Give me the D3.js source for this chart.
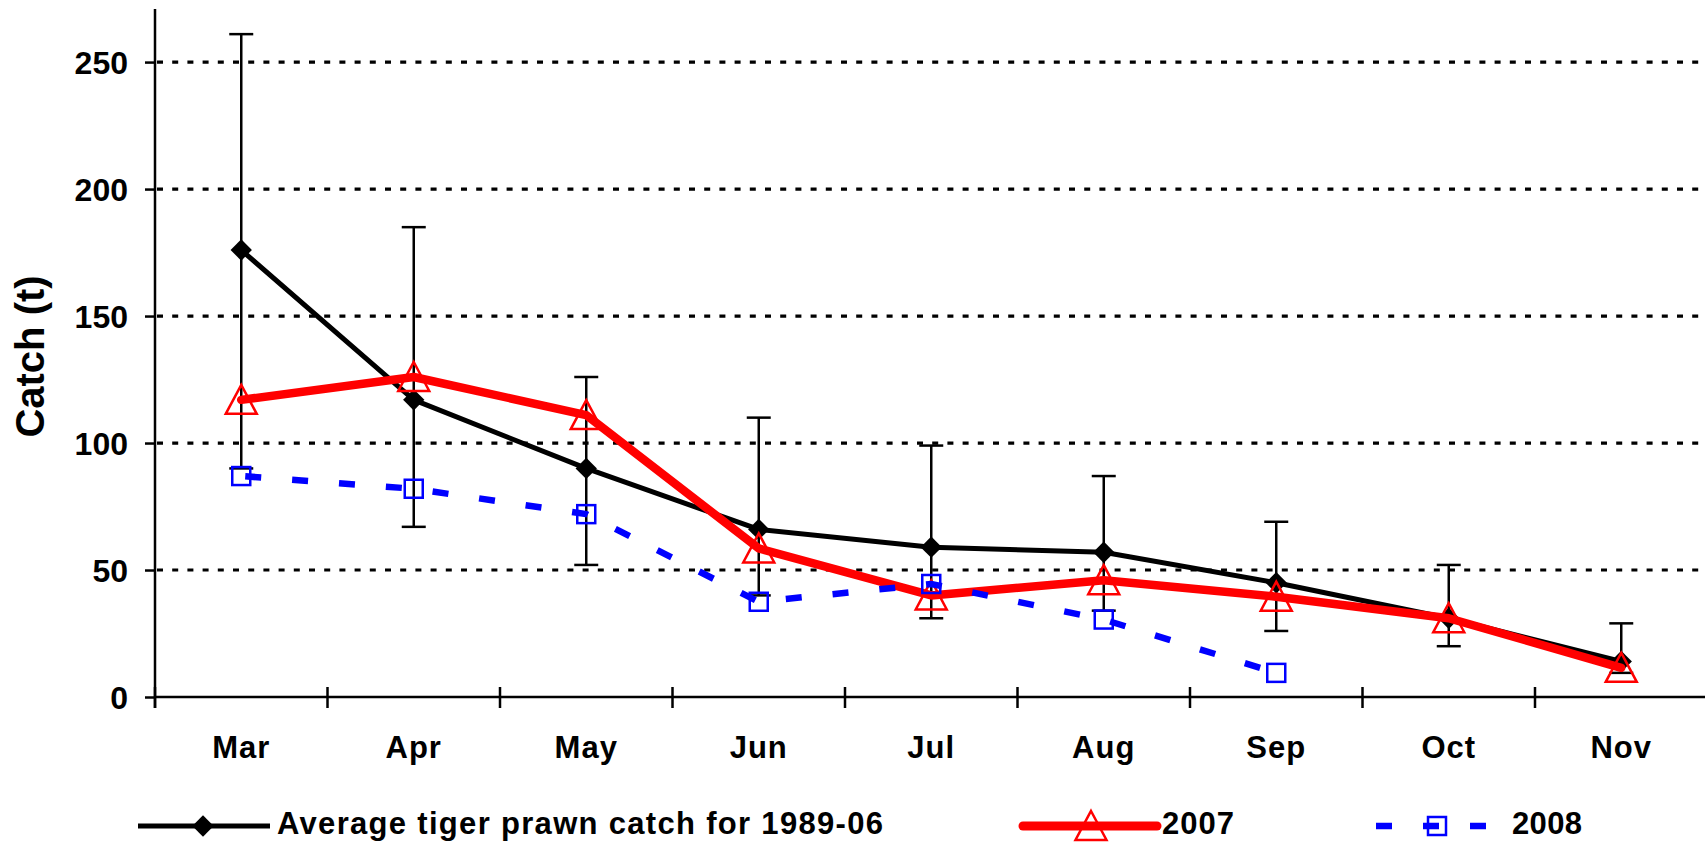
<!DOCTYPE html>
<html>
<head>
<meta charset="utf-8">
<script src="https://cdn.jsdelivr.net/npm/d3@7"></script>
<style>
  html, body { margin: 0; padding: 0; background: #fff; }
  svg { display: block; font-family: "Liberation Sans", Arial, sans-serif; font-weight: bold; }
</style>
</head>
<body>
<svg id="chart" width="1705" height="842"></svg>
<script>
// ---- data ----
const months = ["Mar", "Apr", "May", "Jun", "Jul", "Aug", "Sep", "Oct", "Nov"];
const avgCatch = [176, 117, 90, 66, 59, 57, 45, 31, 14];
const avgUpper = [261, 185, 126, 110, 99, 87, 69, 52, 29];
const avgLower = [90, 67, 52, 40, 31, 34, 26, 20, 9.5];
const catch2007 = [117, 126, 111, 58.5, 40, 46, 39.5, 31, 11.5];
const catch2008 = [87, 82, 72, 37.5, 44.5, 30.5, 9.5, null, null];
const yTicks = [0, 50, 100, 150, 200, 250];
const seriesNames = ["Average tiger prawn catch for 1989-06", "2007", "2008"];
const yTitle = "Catch (t)";

// ---- layout ----
const svg = d3.select("#chart");
const x = d3.scaleBand().domain(months).range([155, 1707.5]).padding(0);
const y = d3.scaleLinear().domain([0, 270.9]).range([697, 9]);
const cx = m => x(m) + x.bandwidth() / 2;

// gridlines
svg.append("g").selectAll("line").data(yTicks.filter(d => d > 0)).join("line")
  .attr("x1", 157).attr("x2", 1705)
  .attr("y1", d => y(d)).attr("y2", d => y(d))
  .attr("stroke", "#000").attr("stroke-width", 3.2)
  .attr("stroke-dasharray", "6,9.2");

// y axis
const yAxis = svg.append("g").attr("transform", "translate(155,0)")
  .call(d3.axisLeft(y).tickValues(yTicks).tickSize(10).tickPadding(17));
yAxis.select(".domain").remove();
yAxis.selectAll(".tick line").attr("stroke", "#000").attr("stroke-width", 2.5);
yAxis.selectAll(".tick text").attr("font-size", 32).attr("font-weight", "bold")
  .attr("fill", "#000").attr("font-family", "Liberation Sans, Arial, sans-serif")
  .attr("dy", "0.36em");
svg.append("line").attr("x1", 155).attr("x2", 155).attr("y1", 9).attr("y2", 708)
  .attr("stroke", "#000").attr("stroke-width", 2.5);

// x axis
svg.append("line").attr("x1", 155).attr("x2", 1705).attr("y1", 697).attr("y2", 697)
  .attr("stroke", "#000").attr("stroke-width", 2.5);
svg.append("g").selectAll("line").data(months.concat(["__end"])).join("line")
  .attr("x1", (d, i) => 155 + i * x.bandwidth()).attr("x2", (d, i) => 155 + i * x.bandwidth())
  .attr("y1", 687).attr("y2", 708)
  .attr("stroke", "#000").attr("stroke-width", 2.5);
svg.append("g").selectAll("text").data(months).join("text")
  .attr("x", d => cx(d)).attr("y", 757.5)
  .attr("text-anchor", "middle").attr("font-size", 31).attr("letter-spacing", 1)
  .text(d => d);

// y title
svg.append("text").attr("transform", "translate(44,356.5) rotate(-90)")
  .attr("text-anchor", "middle").attr("font-size", 40).text(yTitle);

// ---- error bars (average) ----
const eb = svg.append("g").attr("stroke", "#000").attr("stroke-width", 2.5);
months.forEach((m, i) => {
  eb.append("line").attr("x1", cx(m)).attr("x2", cx(m))
    .attr("y1", y(avgUpper[i])).attr("y2", y(avgLower[i]));
  [avgUpper[i], avgLower[i]].forEach(v => {
    eb.append("line").attr("x1", cx(m) - 12).attr("x2", cx(m) + 12)
      .attr("y1", y(v)).attr("y2", y(v));
  });
});

// ---- series ----
const line = d3.line().defined(d => d.v != null).x(d => cx(d.m)).y(d => y(d.v));
const toPts = arr => months.map((m, i) => ({ m, v: arr[i] }));

// average
svg.append("path").datum(toPts(avgCatch)).attr("d", line)
  .attr("fill", "none").attr("stroke", "#000").attr("stroke-width", 5)
  .attr("stroke-linejoin", "round");
const diamond = d3.symbol().type(d3.symbolDiamond2).size(290);
svg.append("g").selectAll("path").data(toPts(avgCatch)).join("path")
  .attr("transform", d => `translate(${cx(d.m)},${y(d.v)})`)
  .attr("d", diamond).attr("fill", "#000");

// 2007
svg.append("path").datum(toPts(catch2007)).attr("d", line)
  .attr("fill", "none").attr("stroke", "#ff0000").attr("stroke-width", 8.5)
  .attr("stroke-linejoin", "round").attr("stroke-linecap", "round");
function triPath(sx, sy) {
  return `M${sx},${sy - 15}L${sx + 15.5},${sy + 14}L${sx - 15.5},${sy + 14}Z`;
}
svg.append("g").selectAll("path").data(toPts(catch2007)).join("path")
  .attr("d", d => triPath(cx(d.m), y(d.v)))
  .attr("fill", "none").attr("stroke", "#ff0000").attr("stroke-width", 2.5);

// 2008
svg.append("path").datum(toPts(catch2008)).attr("d", line)
  .attr("fill", "none").attr("stroke", "#0000ff").attr("stroke-width", 6.5)
  .attr("stroke-dasharray", "16,31").attr("stroke-dashoffset", -4);
svg.append("g").selectAll("rect").data(toPts(catch2008).filter(d => d.v != null)).join("rect")
  .attr("x", d => cx(d.m) - 9).attr("y", d => y(d.v) - 9)
  .attr("width", 18).attr("height", 18)
  .attr("fill", "none").attr("stroke", "#0000ff").attr("stroke-width", 2.5);

// ---- legend ----
const lg = svg.append("g");
const ly = 826;
const lty = 834;
lg.append("line").attr("x1", 138).attr("x2", 270).attr("y1", ly).attr("y2", ly)
  .attr("stroke", "#000").attr("stroke-width", 5);
lg.append("path").attr("transform", `translate(203,${ly})`).attr("d", diamond).attr("fill", "#000");
lg.append("text").attr("x", 277).attr("y", lty).attr("font-size", 31)
  .attr("textLength", 606).attr("lengthAdjust", "spacing").text(seriesNames[0]);

lg.append("line").attr("x1", 1023).attr("x2", 1157).attr("y1", ly).attr("y2", ly)
  .attr("stroke", "#ff0000").attr("stroke-width", 9).attr("stroke-linecap", "round");
lg.append("path").attr("d", triPath(1091, ly)).attr("fill", "none")
  .attr("stroke", "#ff0000").attr("stroke-width", 2.5);
lg.append("text").attr("x", 1162).attr("y", lty).attr("font-size", 31)
  .attr("textLength", 72).attr("lengthAdjust", "spacing").text(seriesNames[1]);

lg.append("line").attr("x1", 1376).attr("x2", 1486).attr("y1", ly).attr("y2", ly)
  .attr("stroke", "#0000ff").attr("stroke-width", 6.5).attr("stroke-dasharray", "16,31");
lg.append("rect").attr("x", 1428).attr("y", ly - 9).attr("width", 18).attr("height", 18)
  .attr("fill", "none").attr("stroke", "#0000ff").attr("stroke-width", 2.5);
lg.append("text").attr("x", 1512).attr("y", lty).attr("font-size", 31)
  .attr("textLength", 70).attr("lengthAdjust", "spacing").text(seriesNames[2]);
</script>
</body>
</html>
